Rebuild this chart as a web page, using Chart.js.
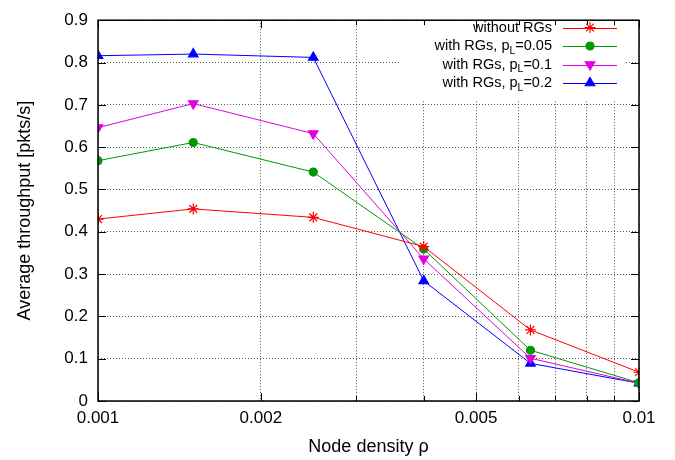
<!DOCTYPE html>
<html><head><meta charset="utf-8">
<script src="https://cdn.jsdelivr.net/npm/chart.js@4.4.1/dist/chart.umd.min.js"></script>
<style>html,body{margin:0;padding:0;background:#fff}#wrap{width:675px;height:460px}</style>
</head><body><div id="wrap"><canvas id="c" width="675" height="460"></canvas></div>
<script>
const densities = [0.001, 0.0015, 0.0025, 0.004, 0.0063, 0.01];
const withoutRGs = [0.430, 0.454, 0.434, 0.365, 0.168, 0.068];
const withRGs005 = [0.568, 0.611, 0.541, 0.359, 0.120, 0.043];
const withRGs01 = [0.646, 0.703, 0.632, 0.336, 0.101, 0.042];
const withRGs02 = [0.816, 0.820, 0.812, 0.284, 0.089, 0.042];
const seriesNames = ['without RGs', ['with RGs, p', 'L', '=0.05'], ['with RGs, p', 'L', '=0.1'], ['with RGs, p', 'L', '=0.2']];
const xTickLabels = [0.001, 0.002, 0.005, 0.01];
const yTicks = [0, 0.1, 0.2, 0.3, 0.4, 0.5, 0.6, 0.7, 0.8, 0.9];
const xMinorTicks = [0.003, 0.004, 0.006, 0.007, 0.008, 0.009];

const colors = ['#ff0000', '#009a00', '#e000e0', '#0000ff'];
const styles = ['star', 'circle', 'triangle', 'triangle'];
const rotations = [0, 0, 180, 0];
const radii = [5.5, 4, 5.5, 5.5];
const allSeries = [withoutRGs, withRGs005, withRGs01, withRGs02];
const FONT = '"Liberation Sans", Arial, sans-serif';

const datasets = allSeries.map((vals, i) => ({
  label: Array.isArray(seriesNames[i]) ? seriesNames[i].join('') : seriesNames[i],
  data: densities.map((d, j) => ({x: d, y: vals[j]})),
  borderColor: colors[i], backgroundColor: colors[i],
  pointBorderColor: colors[i], pointBackgroundColor: colors[i],
  borderWidth: 1, pointStyle: styles[i], pointRotation: rotations[i],
  pointRadius: radii[i], pointBorderWidth: 1.2, pointHoverRadius: radii[i], tension: 0
}));

const framePlugin = {
  id: 'frame',
  afterDatasetsDraw(chart) {
    const {ctx, chartArea: a, scales: {x, y}} = chart;
    ctx.save();
    ctx.strokeStyle = '#000'; ctx.lineWidth = 1;
    ctx.beginPath();
    xTickLabels.forEach(v => { const px = Math.round(x.getPixelForValue(v)) + 0.5;
      ctx.moveTo(px, a.bottom); ctx.lineTo(px, a.bottom - 8);
      ctx.moveTo(px, a.top); ctx.lineTo(px, a.top + 8); });
    xMinorTicks.forEach(v => { const px = Math.round(x.getPixelForValue(v)) + 0.5;
      ctx.moveTo(px, a.bottom); ctx.lineTo(px, a.bottom - 5);
      ctx.moveTo(px, a.top); ctx.lineTo(px, a.top + 5); });
    yTicks.forEach(v => { const py = Math.round(y.getPixelForValue(v)) + 0.5;
      ctx.moveTo(a.left, py); ctx.lineTo(a.left + 8, py);
      ctx.moveTo(a.right, py); ctx.lineTo(a.right - 8, py); });
    ctx.stroke();
    ctx.lineWidth = 1.5;
    ctx.strokeRect(a.left, a.top, a.right - a.left, a.bottom - a.top);
    ctx.restore();
  },
  beforeDatasetsDraw(chart) {
    const {ctx, chartArea: a} = chart;
    ctx.save();
    ctx.fillStyle = '#fff';
    ctx.fillRect(400, a.top + 2, 225, 78);
    ctx.restore();
  },
  afterDraw(chart) {
    const {ctx} = chart;
    ctx.save();
    const textRight = 552, lineL = 563, lineR = 617, mx = 590;
    const rows = [27.5, 46, 64.5, 83];
    const big = '14.5px ' + FONT, small = '10.5px ' + FONT;
    ctx.textBaseline = 'middle';
    seriesNames.forEach((name, i) => {
      const yy = rows[i];
      ctx.fillStyle = '#000';
      if (Array.isArray(name)) {
        ctx.font = big;
        const w3 = ctx.measureText(name[2]).width;
        const w1 = ctx.measureText(name[0]).width;
        ctx.font = small;
        const w2 = ctx.measureText(name[1]).width;
        const xx = textRight - w1 - w2 - w3;
        ctx.textAlign = 'left';
        ctx.font = big;
        ctx.fillText(name[0], xx, yy);
        ctx.font = small;
        ctx.fillText(name[1], xx + w1, yy + 5);
        ctx.font = big;
        ctx.fillText(name[2], xx + w1 + w2, yy);
      } else {
        ctx.font = big;
        ctx.textAlign = 'right';
        ctx.fillText(name, textRight, yy);
      }
      ctx.strokeStyle = colors[i]; ctx.lineWidth = 1;
      ctx.beginPath(); ctx.moveTo(lineL, Math.round(yy) + 0.5); ctx.lineTo(lineR, Math.round(yy) + 0.5); ctx.stroke();
      ctx.fillStyle = colors[i]; ctx.lineWidth = 1.2;
      Chart.helpers.drawPoint(ctx, {pointStyle: styles[i], rotation: rotations[i], radius: radii[i], borderWidth: 1.2}, mx, yy);
    });
    ctx.restore();
  }
};

new Chart(document.getElementById('c'), {
  type: 'line',
  data: {datasets},
  options: {
    responsive: false, animation: false,
    layout: {padding: {left: 0, right: 36, top: 12, bottom: 0}},
    plugins: {legend: {display: false}, tooltip: {enabled: false}},
    scales: {
      x: {
        type: 'logarithmic', min: 0.001, max: 0.01,
        afterFit(s) { s.height = 59; },
        grid: {color: '#555', lineWidth: 1, drawTicks: false},
        border: {display: false, dash: [1, 2]},
        ticks: {
          autoSkip: false, maxRotation: 0, padding: 7, color: '#000',
          font: {family: FONT, size: 17},
          callback(v) { const m = xTickLabels.find(t => Math.abs(t - v) < 1e-9); return m !== undefined ? String(m) : ''; }
        },
        afterBuildTicks(s) { s.ticks = [0.001,0.002,0.003,0.004,0.005,0.006,0.007,0.008,0.009,0.01].map(v => ({value: v})); },
        title: {display: true, text: 'Node density ρ', color: '#000', font: {family: FONT, size: 18}, padding: {top: 4, bottom: 2}}
      },
      y: {
        min: 0, max: 0.9,
        afterFit(s) { s.width = 98; },
        grid: {color: '#555', lineWidth: 1, drawTicks: false},
        border: {display: false, dash: [1, 2]},
        afterBuildTicks(s) { s.ticks = yTicks.map(v => ({value: v})); },
        ticks: {padding: 10, color: '#000', font: {family: FONT, size: 17},
          callback(v) { return String(Math.round(v * 10) / 10); }},
        title: {display: true, text: 'Average throughput [pkts/s]', color: '#000', font: {family: FONT, size: 18}, padding: {top: 14, bottom: 4}}
      }
    }
  },
  plugins: [framePlugin]
});
</script>
</body></html>
